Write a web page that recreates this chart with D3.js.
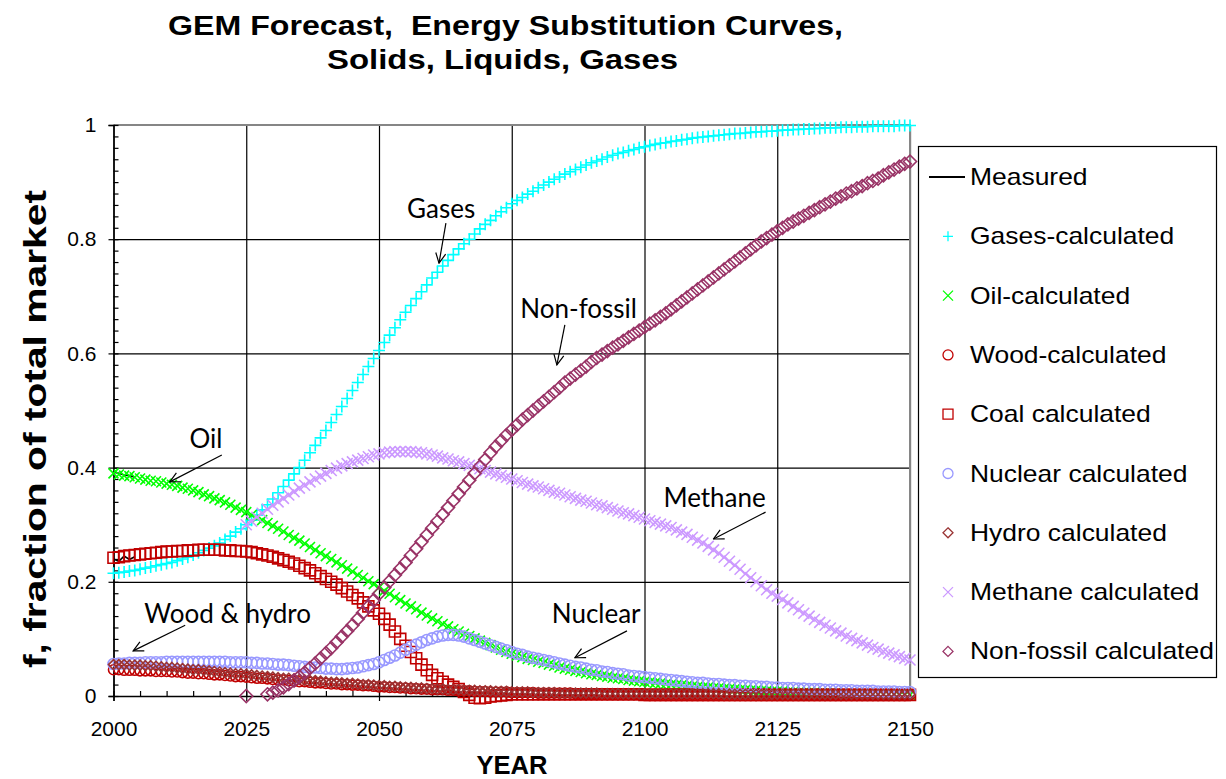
<!DOCTYPE html>
<html>
<head>
<meta charset="utf-8">
<script src="https://cdn.jsdelivr.net/npm/d3@7/dist/d3.min.js"></script>
<style>
  body { margin: 0; background: #fff; }
  svg { display: block; }
</style>
</head>
<body>
<svg id="chart" width="1226" height="779"></svg>
<script>
// ---- data (one value per year 2000..2150) ----
const years = d3.range(2000, 2151);
const xTicks = [2000, 2025, 2050, 2075, 2100, 2125, 2150];
const yTicks = [0, 0.2, 0.4, 0.6, 0.8, 1];

const gases = [.215,.216,.217,.219,.220, .222,.224,.226,.228,.230, .232,.234,.237,.240,.243, .247,.251,.255,.259,.263,
  .268,.274,.280,.287,.293, .300,.308,.317,.326,.335, .345,.356,.367,.378,.389, .400,.413,.426,.439,.452,
  .465,.479,.493,.507,.521, .535,.549,.563,.577,.591, .605,.619,.632,.645,.659, .672,.684,.696,.708,.720,
  .732,.742,.753,.763,.773, .783,.792,.800,.809,.818, .826,.833,.841,.848,.855, .862,.868,.873,.879,.884,
  .890,.895,.900,.905,.909, .914,.918,.922,.926,.930, .934,.937,.940,.944,.947, .950,.952,.955,.957,.960,
  .962,.964,.966,.968,.969, .971,.972,.974,.975,.977, .978,.979,.980,.981,.982, .983,.984,.985,.985,.986,
  .987,.988,.988,.989,.989, .990,.991,.991,.992,.992, .993,.993,.994,.994,.995, .995,.995,.996,.996,.996,
  .997,.997,.997,.998,.998, .998,.998,.998,.999,.999, .999];

const oil = [.390,.388,.386,.385,.383, .381,.379,.377,.376,.374, .372,.370,.368,.365,.363, .360,.357,.353,.350,.346,
  .343,.339,.335,.330,.326, .322,.317,.312,.308,.303, .298,.293,.288,.282,.277, .272,.267,.261,.256,.250,
  .245,.240,.234,.229,.223, .218,.212,.207,.201,.196, .190,.184,.179,.173,.168, .162,.157,.152,.146,.141,
  .136,.131,.126,.122,.117, .113,.109,.105,.101,.097, .093,.089,.085,.081,.077, .074,.071,.068,.065,.063,
  .060,.058,.055,.053,.050, .048,.046,.044,.042,.040, .038,.037,.035,.034,.032, .031,.030,.028,.027,.026,
  .025,.024,.023,.022,.021, .020,.019,.019,.018,.017, .016,.015,.015,.014,.014, .013,.012,.012,.011,.011,
  .010,.010,.009,.009,.008, .008,.008,.007,.007,.006, .006,.006,.006,.005,.005, .005,.005,.004,.004,.004,
  .004,.004,.003,.003,.003, .003,.003,.003,.002,.002, .002];

const wood = [.046,.046,.045,.045,.045, .044,.044,.044,.043,.043, .043,.042,.042,.041,.040, .040,.039,.039,.038,.037,
  .037,.036,.035,.034,.034, .033,.032,.031,.031,.030, .029,.028,.028,.027,.026, .025,.025,.024,.023,.023,
  .022,.021,.021,.020,.020, .019,.019,.018,.018,.017, .016,.016,.015,.015,.014, .014,.013,.013,.012,.012,
  .011,.011,.011,.010,.010, .009,.009,.009,.008,.008, .008,.007,.007,.007,.007, .006,.006,.006,.006,.006,
  .005,.005,.005,.005,.005, .005,.005,.004,.004,.004, .004,.004,.004,.004,.004, .004,.004,.003,.003,.003,
  .003,.003,.003,.003,.003, .003,.003,.003,.003,.003, .003,.003,.003,.003,.003, .003,.003,.003,.003,.003,
  .003,.003,.003,.003,.003, .002,.002,.002,.002,.002, .002,.002,.002,.002,.002, .002,.002,.002,.002,.002,
  .002,.002,.002,.002,.002, .002,.002,.002,.002,.002, .002];

const coal = [.242,.243,.245,.246,.247, .248,.249,.250,.251,.252, .253,.253,.254,.254,.255, .255,.256,.256,.256,.256,
  .256,.255,.255,.254,.254, .253,.252,.250,.248,.246, .244,.241,.238,.235,.232, .228,.224,.220,.215,.210,
  .205,.200,.195,.189,.183, .177,.171,.164,.157,.150, .144,.135,.125,.113,.100, .088,.077,.066,.055,.045,
  .037,.031,.025,.020,.016, .012,.007,.002,-.003,-.004, -.003,-.001,.000,.001,.002, .003,.003,.003,.003,.003,
  .003,.003,.003,.003,.003, .003,.003,.003,.003,.003, .003,.003,.003,.003,.003, .003,.003,.003,.003,.003,
  .002,.002,.002,.002,.002, .002,.002,.002,.002,.002, .002,.002,.002,.002,.002, .002,.002,.002,.002,.002,
  .002,.002,.002,.002,.002, .002,.002,.002,.002,.002, .002,.002,.002,.002,.002, .002,.002,.002,.002,.002,
  .002,.002,.002,.002,.002, .002,.002,.002,.002,.002, .002];

const nuclear = [.056,.057,.057,.058,.058, .058,.059,.059,.059,.059, .060,.060,.060,.060,.060, .060,.060,.060,.060,.060,
  .060,.060,.059,.059,.059, .059,.058,.058,.057,.057, .056,.055,.055,.054,.053, .052,.051,.050,.050,.049,
  .048,.048,.047,.047,.048, .049,.050,.052,.054,.056, .059,.063,.067,.071,.076, .081,.086,.090,.094,.098,
  .101,.104,.106,.107,.107, .106,.104,.101,.098,.095, .092,.089,.086,.083,.080, .077,.074,.072,.069,.067,
  .065,.063,.061,.059,.057, .055,.053,.051,.050,.048, .046,.045,.043,.042,.040, .039,.038,.036,.035,.034,
  .033,.032,.031,.030,.029, .028,.027,.026,.025,.024, .023,.023,.022,.021,.021, .020,.019,.019,.018,.018,
  .017,.017,.016,.016,.015, .015,.014,.014,.014,.013, .013,.012,.012,.012,.011, .011,.011,.010,.010,.010,
  .009,.009,.009,.009,.008, .008,.008,.008,.007,.007, .007];

const hydro = [.055,.055,.055,.054,.054, .054,.053,.053,.052,.051, .050,.050,.049,.048,.047, .046,.046,.045,.044,.043,
  .042,.041,.040,.039,.039, .038,.037,.036,.035,.034, .033,.032,.031,.031,.030, .029,.028,.027,.027,.026,
  .025,.024,.024,.023,.022, .022,.021,.020,.020,.019, .018,.018,.017,.017,.016, .015,.015,.014,.014,.013,
  .013,.012,.012,.011,.011, .011,.010,.010,.010,.009, .009,.009,.008,.008,.008, .007,.007,.007,.007,.006,
  .006,.006,.006,.006,.005, .005,.005,.005,.005,.005, .005,.005,.004,.004,.004, .004,.004,.004,.004,.004,
  .004,.004,.004,.004,.004, .004,.004,.004,.004,.004, .004,.004,.004,.004,.004, .003,.003,.003,.003,.003,
  .003,.003,.003,.003,.003, .003,.003,.003,.003,.003, .003,.003,.003,.003,.003, .003,.003,.003,.003,.003,
  .003,.003,.003,.003,.003, .003,.003,.003,.003,.003, .003];

const methane = [null,null,null,null,null, null,null,null,null,null, null,null,null,null,null, null,null,null,null,null,
  null,null,null,null,null, .300,.306,.313,.320,.327, .334,.340,.346,.352,.358, .364,.369,.375,.380,.385,
  .390,.395,.399,.403,.407, .410,.413,.416,.419,.422, .424,.426,.427,.428,.428, .428,.428,.427,.426,.424,
  .422,.420,.417,.415,.412, .410,.407,.404,.401,.398, .395,.392,.389,.386,.383, .380,.377,.374,.371,.368,
  .366,.363,.360,.357,.355, .352,.349,.346,.343,.341, .338,.335,.333,.330,.327, .324,.321,.319,.316,.313,
  .310,.307,.304,.301,.298, .295,.291,.287,.283,.278, .273,.268,.262,.256,.250, .243,.236,.229,.222,.214,
  .207,.200,.193,.186,.180, .175,.169,.163,.157,.151, .145,.140,.134,.129,.124, .119,.114,.110,.105,.101,
  .097,.093,.089,.085,.082, .078,.075,.072,.069,.066, .063];

const nonFossil = [null,null,null,null,null, null,null,null,null,null, null,null,null,null,null, null,null,null,null,null,
  null,null,null,null,null, .000,null,null,null,.003, .006,.010,.015,.021,.027, .034,.041,.049,.057,.066,
  .075,.084,.094,.104,.114, .124,.135,.146,.157,.168, .179,.190,.201,.212,.223, .234,.246,.258,.270,.282,
  .294,.306,.318,.330,.342, .354,.366,.378,.390,.402, .414,.426,.437,.447,.457, .466,.475,.484,.492,.500,
  .508,.516,.524,.532,.540, .549,.556,.563,.570,.577, .585,.592,.598,.604,.610, .616,.622,.628,.634,.640,
  .646,.652,.658,.664,.670, .677,.684,.691,.698,.705, .712,.719,.726,.733,.740, .747,.754,.761,.768,.775,
  .782,.789,.796,.802,.808, .814,.820,.826,.831,.836, .841,.846,.851,.856,.861, .866,.871,.875,.880,.884,
  .889,.893,.898,.902,.906, .912,.917,.922,.927,.932, .936];

// short measured history at the left edge
const measuredYears = [2000, 2001, 2002, 2003, 2004];
const measuredOil = [.392, .390, .387, .386, .383];
const measuredCoal = [.240, .236, .245, .239, .244];

// ---- styling of each series ----
const series = [
  { name: 'Gases-calculated',     values: gases,     color: '#00ffff', shape: 'plus',    r: 6 },
  { name: 'Oil-calculated',       values: oil,       color: '#00ff00', shape: 'cross',   r: 5 },
  { name: 'Wood-calculated',      values: wood,      color: '#c00000', shape: 'circle',  r: 5 },
  { name: 'Coal calculated',      values: coal,      color: '#c00000', shape: 'square',  r: 5.5 },
  { name: 'Nuclear calculated',   values: nuclear,   color: '#9999ff', shape: 'circle',  r: 5.5 },
  { name: 'Hydro calculated',     values: hydro,     color: '#993333', shape: 'diamond', r: 5 },
  { name: 'Methane calculated',   values: methane,   color: '#cc99ff', shape: 'cross',   r: 5.5 },
  { name: 'Non-fossil calculated',values: nonFossil, color: '#993366', shape: 'diamond', r: 6.5 }
];

const annotations = [
  { text: 'Gases',        tx: 2061.7, ty: 0.837, from: [2062.6, 0.828], to: [2061.3, 0.758] },
  { text: 'Non-fossil',   tx: 2087.6, ty: 0.662, from: [2085.0, 0.650], to: [2083.5, 0.580] },
  { text: 'Oil',          tx: 2017.4, ty: 0.434, from: [2020.4, 0.422], to: [2010.6, 0.375] },
  { text: 'Wood & hydro', tx: 2021.5, ty: 0.128, from: [2013.5, 0.124], to: [2003.7, 0.079] },
  { text: 'Nuclear',      tx: 2090.9, ty: 0.128, from: [2096.7, 0.114], to: [2086.9, 0.067] },
  { text: 'Methane',      tx: 2113.2, ty: 0.331, from: [2122.8, 0.322], to: [2113.0, 0.275] }
];

const plot = { left: 113.5, right: 910, top: 125, bottom: 696 };
const axisFont = '"Liberation Sans", Arial, sans-serif';

const svg = d3.select('#chart');

const x = d3.scaleLinear().domain([2000, 2150]).range([plot.left, plot.right]);
const y = d3.scaleLinear().domain([0, 1]).range([plot.bottom, plot.top]);

function shapePath(shape, s) {
  switch (shape) {
    case 'plus':    return `M${-s},0H${s}M0,${-s}V${s}`;
    case 'cross':   return `M${-s},${-s}L${s},${s}M${s},${-s}L${-s},${s}`;
    case 'circle':  return `M${s},0A${s},${s} 0 1,1 ${-s},0A${s},${s} 0 1,1 ${s},0Z`;
    case 'square':  return `M${-s},${-s}H${s}V${s}H${-s}Z`;
    case 'diamond': return `M0,${-s}L${s},0L0,${s}L${-s},0Z`;
  }
}

// gridlines
svg.append('g')
  .attr('transform', `translate(0,${plot.bottom})`)
  .call(d3.axisBottom(x).tickValues(xTicks).tickSize(-(plot.bottom - plot.top)).tickFormat(''))
  .call(g => g.select('.domain').remove())
  .selectAll('line').attr('stroke', '#000').attr('stroke-width', 1);

svg.append('g')
  .attr('transform', `translate(${plot.left},0)`)
  .call(d3.axisLeft(y).tickValues(yTicks).tickSize(-(plot.right - plot.left)).tickFormat(''))
  .call(g => g.select('.domain').remove())
  .selectAll('line').attr('stroke', '#000').attr('stroke-width', 1);

// plot frame (top and right in grey)
svg.append('path')
  .attr('d', `M${plot.left},${plot.top}H${plot.right}V${plot.bottom}`)
  .attr('fill', 'none').attr('stroke', '#868686').attr('stroke-width', 2);

// x axis: labels + outward major ticks, inward minor ticks
const xAxisG = svg.append('g')
  .attr('transform', `translate(0,${plot.bottom})`)
  .call(d3.axisBottom(x).tickValues(xTicks).tickSize(5).tickPadding(20).tickFormat(d3.format('d')));
svg.append('g')
  .attr('transform', `translate(0,${plot.bottom})`)
  .call(d3.axisTop(x).tickValues(d3.range(2000, 2151, 5)).tickSize(5).tickFormat(''))
  .call(g => g.select('.domain').remove());

// y axis
const yAxisG = svg.append('g')
  .attr('transform', `translate(${plot.left},0)`)
  .call(d3.axisLeft(y).tickValues(yTicks).tickSize(5).tickPadding(12).tickFormat(d => d3.format('')(d)));
svg.append('g')
  .attr('transform', `translate(${plot.left},0)`)
  .call(d3.axisRight(y).tickValues(d3.range(0, 51).map(i => i / 50)).tickSize(5).tickFormat(''))
  .call(g => g.select('.domain').remove());

svg.selectAll('.tick line').attr('stroke', '#000').attr('stroke-width', 1.2);
[xAxisG, yAxisG].forEach(g => {
  g.select('.domain').attr('stroke', '#000').attr('stroke-width', 1.5);
  g.selectAll('text')
    .attr('font-family', axisFont)
    .attr('font-size', 21)
    .attr('fill', '#000');
});

// measured history
const measuredLine = d3.line().x((d, i) => x(measuredYears[i])).y(d => y(d));
[measuredOil, measuredCoal].forEach(vals => {
  svg.append('path').attr('d', measuredLine(vals))
    .attr('fill', 'none').attr('stroke', '#000').attr('stroke-width', 1.6);
});

// series markers
series.forEach(s => {
  const pts = years.map((yr, i) => ({ yr, v: s.values[i] })).filter(d => d.v !== null);
  svg.append('g')
    .selectAll('path')
    .data(pts)
    .enter()
    .append('path')
    .attr('transform', d => `translate(${x(d.yr)},${y(d.v)})`)
    .attr('d', shapePath(s.shape, s.r))
    .attr('fill', 'none')
    .attr('stroke', s.color)
    .attr('stroke-width', 1.6);
});

// annotations with open arrowheads
svg.append('defs').append('marker')
  .attr('id', 'arrow')
  .attr('viewBox', '0 0 12 12')
  .attr('refX', 11).attr('refY', 6)
  .attr('markerWidth', 12).attr('markerHeight', 12)
  .attr('markerUnits', 'userSpaceOnUse')
  .attr('orient', 'auto')
  .append('path')
  .attr('d', 'M1,1L11,6L1,11')
  .attr('fill', 'none').attr('stroke', '#000').attr('stroke-width', 1.2);

annotations.forEach(a => {
  svg.append('text')
    .attr('x', x(a.tx)).attr('y', y(a.ty))
    .attr('text-anchor', 'middle')
    .attr('font-family', 'Lato, "Open Sans", sans-serif')
    .attr('font-size', 26)
    .attr('fill', '#000')
    .text(a.text);
  svg.append('line')
    .attr('x1', x(a.from[0])).attr('y1', y(a.from[1]))
    .attr('x2', x(a.to[0])).attr('y2', y(a.to[1]))
    .attr('stroke', '#000').attr('stroke-width', 1.2)
    .attr('marker-end', 'url(#arrow)');
});

// title
const title = ['GEM Forecast,  Energy Substitution Curves,', 'Solids, Liquids, Gases'];
const titleWidths = [675, 351];
title.forEach((t, i) => {
  svg.append('text')
    .attr('x', i === 0 ? 505.5 : 502.5).attr('y', 35 + i * 34)
    .attr('text-anchor', 'middle')
    .attr('font-family', axisFont)
    .attr('font-weight', 'bold')
    .attr('font-size', 28)
    .attr('textLength', titleWidths[i])
    .attr('lengthAdjust', 'spacingAndGlyphs')
    .style('white-space', 'pre')
    .text(t);
});

// axis titles
svg.append('text')
  .attr('x', 512).attr('y', 774)
  .attr('text-anchor', 'middle')
  .attr('font-family', axisFont).attr('font-weight', 'bold').attr('font-size', 25)
  .attr('textLength', 71).attr('lengthAdjust', 'spacingAndGlyphs')
  .text('YEAR');

svg.append('text')
  .attr('transform', 'translate(46,429) rotate(-90)')
  .attr('text-anchor', 'middle')
  .attr('font-family', axisFont).attr('font-weight', 'bold').attr('font-size', 31)
  .attr('textLength', 478).attr('lengthAdjust', 'spacingAndGlyphs')
  .text('f, fraction of total market');

// legend
const legend = svg.append('g');
legend.append('rect')
  .attr('x', 918.5).attr('y', 146.5).attr('width', 298).attr('height', 531)
  .attr('fill', '#fff').attr('stroke', '#000').attr('stroke-width', 1.2);

const legendItems = [{ name: 'Measured', line: true }].concat(series);
legendItems.forEach((s, i) => {
  const ly = 177 + i * 59.3;
  if (s.line) {
    legend.append('line')
      .attr('x1', 929).attr('x2', 965).attr('y1', ly).attr('y2', ly)
      .attr('stroke', '#000').attr('stroke-width', 2);
  } else {
    legend.append('path')
      .attr('transform', `translate(948,${ly})`)
      .attr('d', shapePath(s.shape, 5))
      .attr('fill', 'none').attr('stroke', s.color).attr('stroke-width', 1.3);
  }
  legend.append('text')
    .attr('transform', `translate(970,${ly + 8}) scale(1.15,1)`)
    .attr('font-family', axisFont)
    .attr('font-size', 23)
    .attr('fill', '#000')
    .text(s.name);
});
</script>
</body>
</html>
